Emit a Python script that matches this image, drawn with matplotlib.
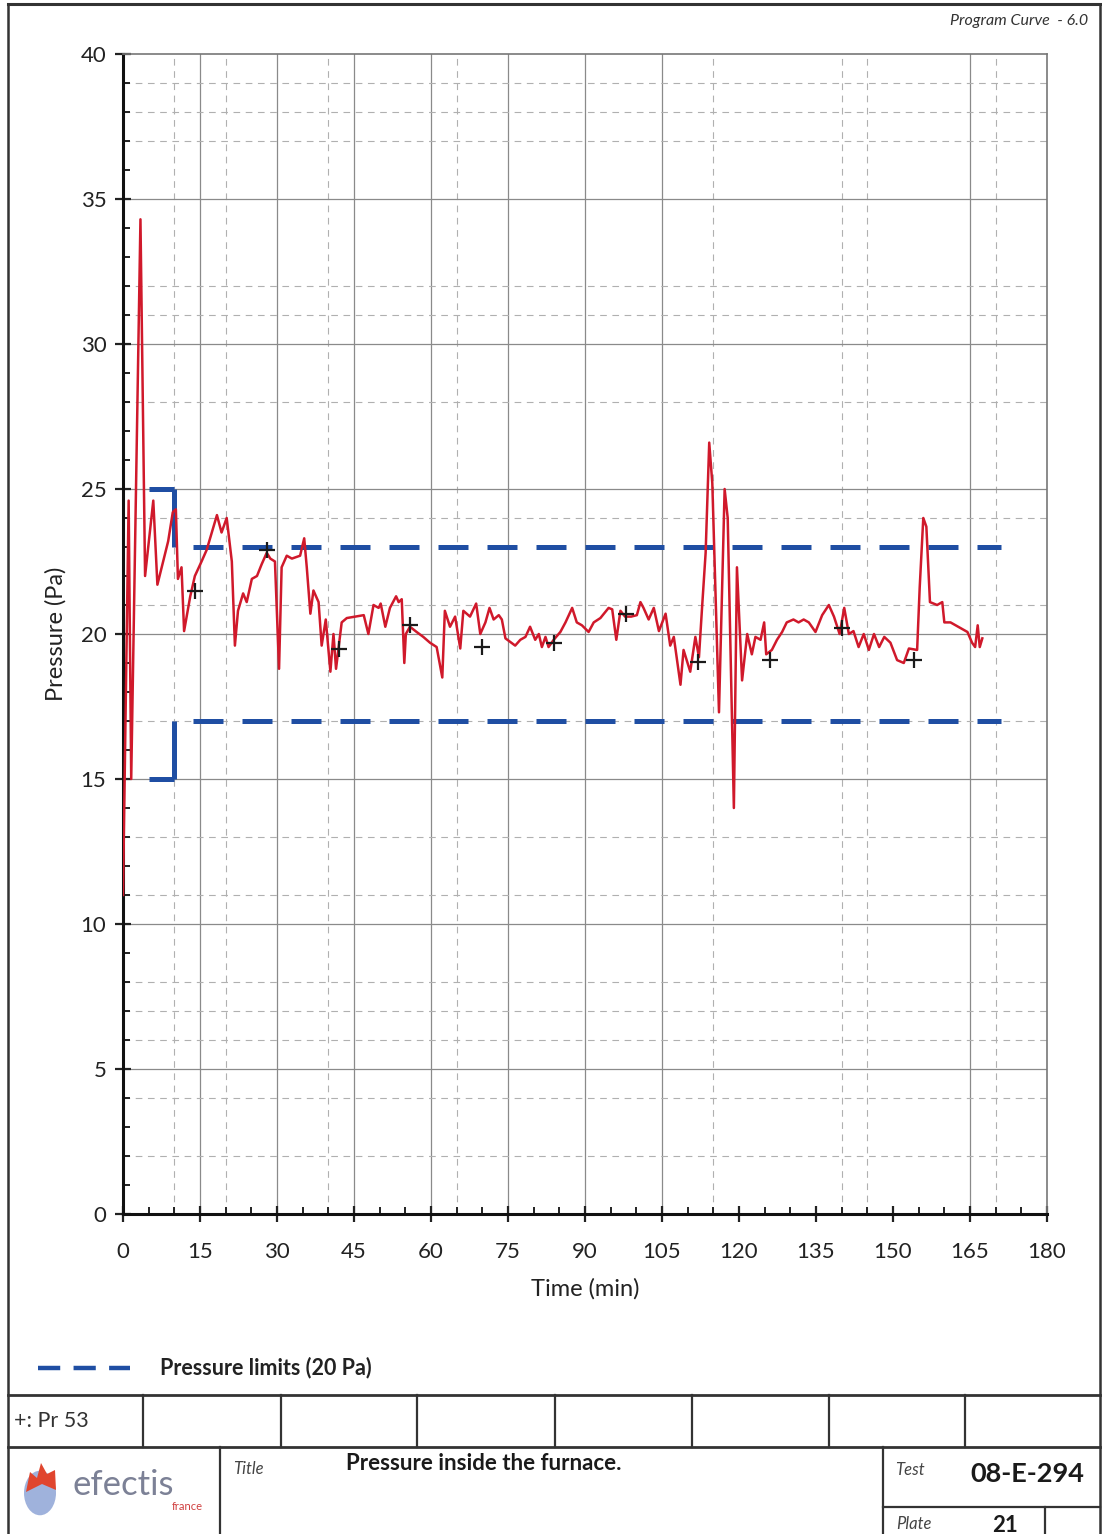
import matplotlib
matplotlib.use("Agg")
import matplotlib.pyplot as plt
from matplotlib.lines import Line2D
from matplotlib.patches import Circle, Polygon
from matplotlib.ticker import MultipleLocator

plt.rcParams['font.family'] = ['Lato', 'DejaVu Sans']

# furnace pressure
time_min = [0, 1.1, 1.6, 3.4, 4.3, 5.9, 6.7, 8.8, 9.7, 10.3, 10.7, 11.4, 11.9, 13.1, 14.0,
            15.3, 16.3, 17.3, 18.3, 19.2, 20.2, 21.2, 21.8, 22.4, 23.4, 24.1, 25.1, 26.1, 27.0,
            28.0, 28.7, 29.6, 30.4, 30.9, 31.9, 32.9, 34.5, 35.3, 35.8, 36.5, 37.1, 38.1, 38.7,
            39.5, 40.4, 41.0, 41.5, 42.6, 43.6, 45.2, 46.9, 47.8, 48.8, 49.8, 50.2, 51.1, 52.0,
            53.2, 53.7, 54.3, 54.8, 55.1, 55.9, 57.2, 58.5, 59.8, 61.1, 62.2, 62.7, 63.7, 64.7,
            65.7, 66.3, 67.6, 68.8, 69.6, 70.6, 71.4, 72.2, 73.2, 73.8, 74.5, 75.4, 76.4, 77.4,
            78.4, 79.3, 80.3, 81.0, 81.6, 82.3, 82.9, 83.9, 85.2, 86.2, 87.5, 88.4, 89.4, 90.7,
            91.7, 93.0, 94.6, 95.3, 96.1, 96.9, 97.8, 99.0, 100.1, 100.8, 101.4, 102.4, 103.4,
            104.4, 105.7, 106.6, 107.3, 108.6, 109.2, 110.5, 111.5, 112.2, 112.8, 113.5, 114.2,
            114.8, 116.1, 117.2, 117.8, 119.0, 119.6, 120.6, 121.6, 122.5, 123.2, 124.2, 124.9,
            125.3, 126.4, 127.4, 128.4, 129.3, 130.6, 131.6, 132.6, 133.6, 134.9, 136.2, 137.5,
            138.5, 139.6, 140.5, 141.4, 142.3, 143.3, 144.3, 145.3, 146.3, 147.3, 148.3, 149.5,
            150.8, 152.1, 153.1, 154.7, 155.2, 155.9, 156.5, 157.2, 158.6, 159.6, 160.0, 161.2,
            163.2, 164.5, 165.4, 166.0, 166.5, 166.9, 167.4]
pressure_pa = [11.0, 24.6, 15.0, 34.3, 22.0, 24.6, 21.7, 23.2, 24.2, 24.3, 21.9, 22.3, 20.1, 21.3, 22.0,
               22.5, 22.9, 23.5, 24.1, 23.5, 24.0, 22.5, 19.6, 20.8, 21.4, 21.1, 21.9, 22.0, 22.4,
               22.8, 22.6, 22.5, 18.8, 22.3, 22.7, 22.6, 22.7, 23.3, 22.3, 20.7, 21.5, 21.1, 19.6,
               20.5, 18.7, 20.0, 18.8, 20.4, 20.55, 20.6, 20.65, 20.0, 21.0, 20.9, 21.05, 20.25, 20.9,
               21.3, 21.1, 21.2, 19.0, 20.0, 20.25, 20.07, 19.9, 19.7, 19.55, 18.5, 20.8, 20.25, 20.6,
               19.5, 20.8, 20.6, 21.05, 20.0, 20.4, 20.9, 20.5, 20.65, 20.5, 19.85, 19.73, 19.6, 19.8,
               19.9, 20.25, 19.8, 20.0, 19.55, 19.9, 19.55, 19.8, 20.07, 20.4, 20.9, 20.4, 20.3, 20.07,
               20.4, 20.55, 20.9, 20.85, 19.8, 20.8, 20.6, 20.6, 20.65, 21.1, 20.9, 20.5, 20.9,
               20.1, 20.7, 19.6, 19.9, 18.25, 19.45, 18.7, 19.9, 19.2, 20.9, 22.8, 26.6,
               25.2, 17.3, 25.0, 24.0, 14.0, 22.3, 18.4, 20.0, 19.3, 19.9, 19.8, 20.4,
               19.3, 19.45, 19.8, 20.07, 20.4, 20.5, 20.4, 20.5, 20.4, 20.07, 20.65, 21.0,
               20.6, 20.0, 20.9, 20.0, 20.1, 19.55, 20.0, 19.45, 20.0, 19.55, 19.9, 19.7,
               19.1, 19.0, 19.5, 19.45, 21.6, 24.0, 23.7, 21.1, 21.0, 21.1, 20.4, 20.4,
               20.2, 20.07, 19.7, 19.55, 20.3, 19.55, 19.85]

# "+" markers (Pr 53)
mark_t = [14, 28, 42, 56, 70, 84, 98, 112, 126, 140, 154]
mark_p = [21.5, 22.9, 19.5, 20.3, 19.55, 19.7, 20.7, 19.05, 19.1, 20.2, 19.1]

# pressure limits
lim_t = [5, 10, 10, 171]
lim_upper = [25, 25, 23, 23]
lim_lower = [15, 15, 17, 17]

# odd grid of the original plate
solid_x = [15, 30, 45, 60, 75, 90, 105, 165]
dashed_x = [10, 20, 40, 65, 115, 140, 145, 170]
solid_y = [5, 10, 15, 20, 25, 30, 35]
dashed_y = [2, 4, 6, 7, 8, 11, 13, 17, 21, 24, 28, 31, 32, 37, 38, 39]

W, H = 1102, 1534
fig = plt.figure(figsize=(W / 100, H / 100), dpi=100)


def fx(px):
    return px / W


def fy(py):
    return 1 - py / H


ax = fig.add_axes([fx(123), fy(1214), fx(1047) - fx(123), fy(54) - fy(1214)])
ax.set_xlim(0, 180)
ax.set_ylim(0, 40)

for x in solid_x:
    ax.axvline(x, color='#8a8a8a', lw=0.9, zorder=1)
for x in dashed_x:
    ax.axvline(x, color='#b0b0b0', lw=0.8, ls=(0, (6, 5)), zorder=1)
for y in solid_y:
    ax.axhline(y, color='#8a8a8a', lw=0.9, zorder=1)
for y in dashed_y:
    ax.axhline(y, color='#b0b0b0', lw=0.8, ls=(0, (6, 5)), zorder=1)

# limits, each segment dashed on its own like the plotter did
blue = '#1f4ea3'
for lim in (lim_upper, lim_lower):
    for i in range(3):
        style = (6, (6, 3.8)) if i == 2 else '-'
        ax.plot(lim_t[i:i + 2], lim[i:i + 2], color=blue, lw=3.6, ls=style,
                solid_capstyle='butt', dash_capstyle='butt', zorder=2)

ax.plot(time_min, pressure_pa, color='#d0192b', lw=1.8, zorder=3)
ax.plot(mark_t, mark_p, ls='none', marker='+', ms=11, mew=1.6, color='#1a1a1a', zorder=4)

ax.xaxis.set_major_locator(MultipleLocator(15))
ax.xaxis.set_minor_locator(MultipleLocator(5))
ax.yaxis.set_major_locator(MultipleLocator(5))
ax.yaxis.set_minor_locator(MultipleLocator(1))
ax.tick_params(which='major', direction='inout', length=12, width=1.6, labelsize=16,
               colors='#222222')
ax.tick_params(axis='x', which='major', pad=14)
ax.tick_params(axis='y', which='major', pad=6)
ax.tick_params(which='minor', direction='in', length=5, width=1.4, colors='#222222')

for side in ('left', 'bottom'):
    ax.spines[side].set_linewidth(2.2)
    ax.spines[side].set_color('#111111')
for side in ('top', 'right'):
    ax.spines[side].set_linewidth(1.2)
    ax.spines[side].set_color('#777777')

ax.set_xlabel('Time (min)', fontsize=17, color='#222222', labelpad=12)
ax.set_ylabel('Pressure (Pa)', fontsize=17, color='#222222', labelpad=10)

# page frame and title block
def hline(y, x0, x1, lw=1.6, c='#333333'):
    fig.add_artist(Line2D([fx(x0), fx(x1)], [fy(y), fy(y)], lw=lw, color=c))


def vline(x, y0, y1, lw=1.6, c='#333333'):
    fig.add_artist(Line2D([fx(x), fx(x)], [fy(y0), fy(y1)], lw=lw, color=c))


hline(4, 8, 1100, lw=2.2)
vline(8, 4, 1534, lw=1.8)
vline(1100, 4, 1534, lw=1.8)
hline(1395, 8, 1100, lw=2.0)
hline(1447, 8, 1100, lw=2.0)
for x in [143, 281, 417, 555, 692, 829, 965]:
    vline(x, 1395, 1447)
vline(220, 1447, 1534)
vline(883, 1447, 1534)
hline(1507, 883, 1100)
vline(1045, 1507, 1534)

fig.text(fx(1088), fy(21), 'Program Curve  - 6.0', ha='right', va='center',
         fontsize=11.5, style='italic', color='#333333')

fig.add_artist(Line2D([fx(38), fx(130)], [fy(1368), fy(1368)], color=blue, lw=3.2,
                      ls=(0, (5, 3))))
fig.text(fx(160), fy(1368), 'Pressure limits (20 Pa)', ha='left', va='center',
         fontsize=15.5, weight='bold', color='#222222')
fig.text(fx(14), fy(1421), '+: Pr 53', ha='left', va='center', fontsize=15.5, color='#333333')

# efectis logo
fig.add_artist(Circle((fx(40), fy(1493)), 16 / W, transform=fig.transFigure,
                      facecolor='#9fb2dc', edgecolor='none'))
fig.add_artist(Polygon([(fx(26), fy(1492)), (fx(30), fy(1472)), (fx(37), fy(1478)),
                        (fx(41), fy(1463)), (fx(47), fy(1474)), (fx(55), fy(1470)),
                        (fx(56), fy(1490)), (fx(42), fy(1484))],
                       closed=True, transform=fig.transFigure, facecolor='#e0452e',
                       edgecolor='none'))
fig.text(fx(72), fy(1485), 'efectis', ha='left', va='center', fontsize=25, color='#7c8196')
fig.text(fx(203), fy(1507), 'france', ha='right', va='center', fontsize=8, color='#d04040')

fig.text(fx(233), fy(1469), 'Title', ha='left', va='center', fontsize=12, style='italic',
         color='#444444')
fig.text(fx(346), fy(1464), 'Pressure inside the furnace.', ha='left', va='center',
         fontsize=16, weight='bold', color='#1a1a1a')
fig.text(fx(895), fy(1470), 'Test', ha='left', va='center', fontsize=12, style='italic',
         color='#444444')
fig.text(fx(970), fy(1474), '08-E-294', ha='left', va='center', fontsize=19.5, weight='bold',
         color='#1a1a1a')
fig.text(fx(896), fy(1524), 'Plate', ha='left', va='center', fontsize=12, style='italic',
         color='#444444')
fig.text(fx(1005), fy(1525), '21', ha='center', va='center', fontsize=16, weight='bold',
         color='#1a1a1a')

fig.savefig('out.png', dpi=100)
